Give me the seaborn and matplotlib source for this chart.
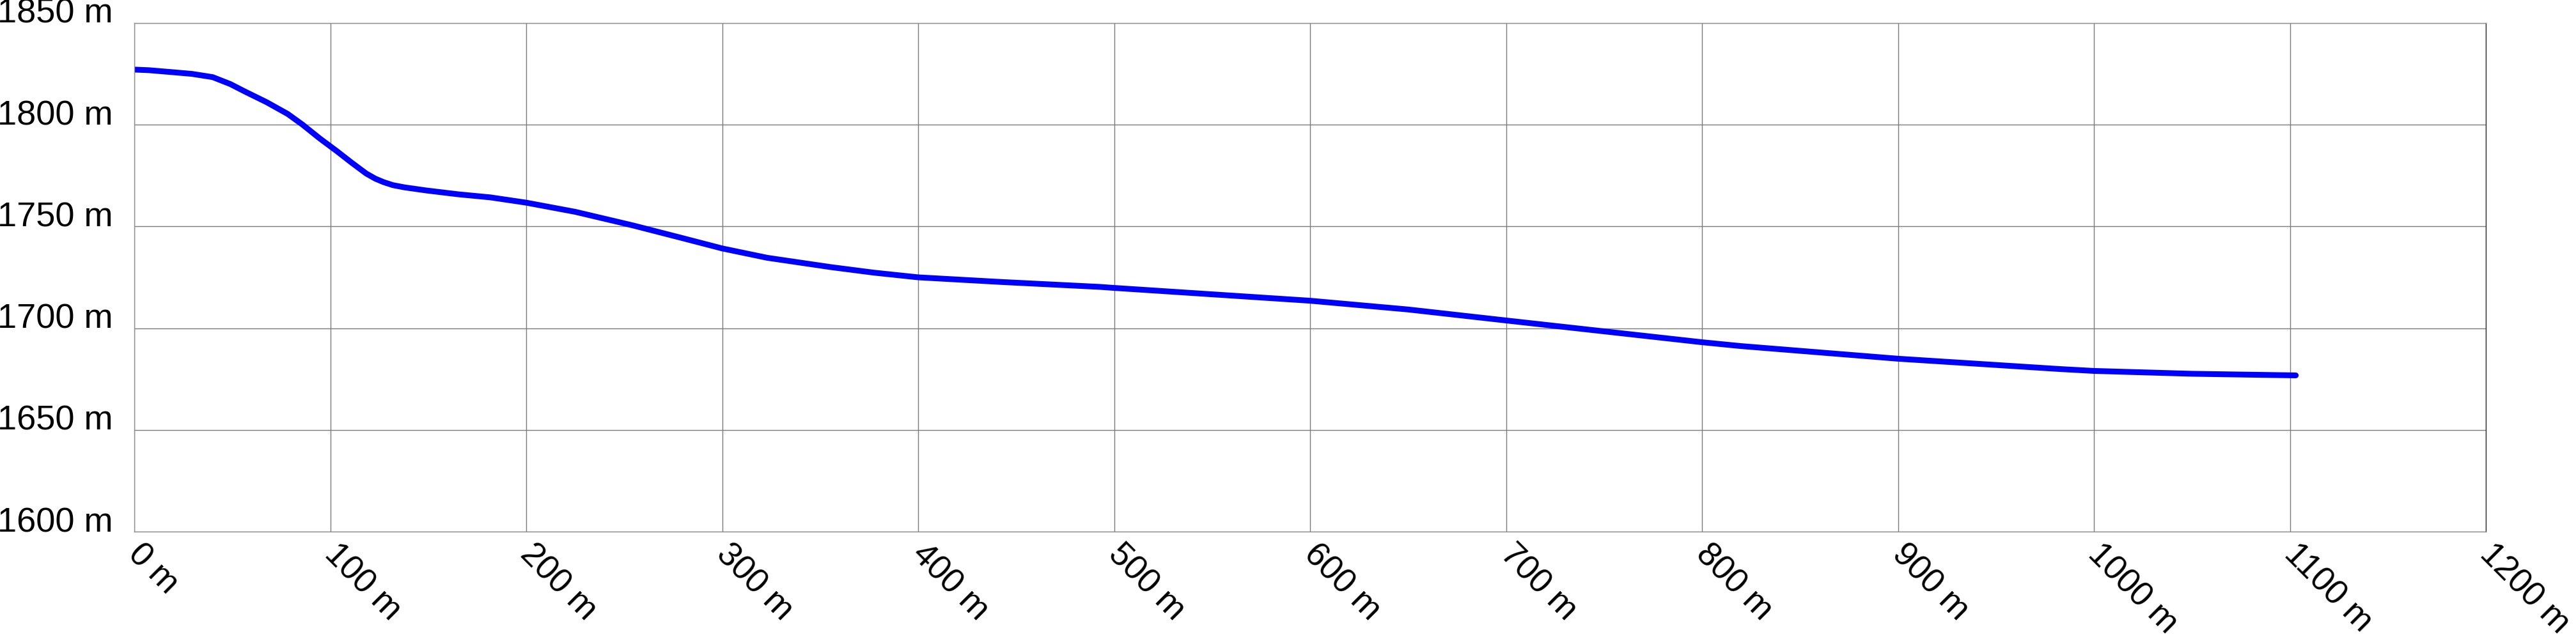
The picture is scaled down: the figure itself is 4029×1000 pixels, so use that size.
import matplotlib
matplotlib.use("Agg")
import matplotlib.pyplot as plt
import matplotlib.transforms as mtransforms
import pandas as pd
import seaborn as sns

# elevation profile (distance in m, elevation in m)
distance_m = [0, 7.5, 18.6, 29.4, 40, 49, 56.5, 67.5, 78.3, 85.8, 94.6,
              103.4, 111, 118.4, 123, 127.2, 132, 138, 149, 165.4, 181.7,
              200, 225, 254.5, 279.6, 300, 323, 355.6, 377.4, 400, 442.7,
              492.7, 500, 600, 650, 700, 800, 820, 900, 983, 1000, 1050,
              1103]
elevation_m = [1827.1, 1826.8, 1825.9, 1825.0, 1823.4, 1820.0, 1816.3,
               1811.1, 1805.3, 1800.1, 1793.3, 1787.0, 1781.3, 1776.0,
               1773.5, 1771.8, 1770.3, 1769.2, 1767.7, 1765.8, 1764.3,
               1761.7, 1757.2, 1750.5, 1744.3, 1739.2, 1734.6, 1730.0,
               1727.3, 1725.0, 1722.7, 1720.3, 1719.8, 1713.5, 1709.2,
               1703.8, 1693.1, 1691.2, 1685.0, 1679.9, 1679.0, 1677.6,
               1676.8]

x_ticks = list(range(0, 1201, 100))
y_ticks = list(range(1600, 1851, 50))

df = pd.DataFrame({"distance": distance_m, "elevation": elevation_m})

sns.set_style("white")
plt.rcParams["font.family"] = ["Liberation Sans", "DejaVu Sans"]

fig = plt.figure(figsize=(40.3, 10), dpi=100)
ax = fig.add_axes([210 / 4030, 1 - 832 / 1000, 3678 / 4030, 796 / 1000])

sns.lineplot(data=df, x="distance", y="elevation", ax=ax,
             color="#0000ff", linewidth=6.5, solid_capstyle="round",
             solid_joinstyle="round")

ax.set_xlim(0, 1200)
ax.set_ylim(1600, 1850)
ax.set_xticks(x_ticks)
ax.set_yticks(y_ticks)
ax.set_xticklabels([f"{v} m" for v in x_ticks])
ax.set_yticklabels([f"{v} m" for v in y_ticks])
ax.set_xlabel("")
ax.set_ylabel("")

ax.grid(True, color="#7a7a7a", linewidth=1.0)
ax.set_axisbelow(True)
for side in ["left", "right", "top", "bottom"]:
    ax.spines[side].set_visible(True)
    ax.spines[side].set_color("#909090")
    ax.spines[side].set_linewidth(1.0)
ax.spines["right"].set_color("#303030")

ax.tick_params(axis="both", length=0, labelcolor="black")
ax.tick_params(axis="y", pad=24, labelsize=39)
ax.tick_params(axis="x", pad=7, labelsize=38)

for lab in ax.get_yticklabels():
    lab.set_verticalalignment("baseline")

shift = mtransforms.ScaledTranslation(16 / 100, 0, fig.dpi_scale_trans)
for lab in ax.get_xticklabels():
    lab.set_rotation(-45)
    lab.set_rotation_mode("anchor")
    lab.set_horizontalalignment("left")
    lab.set_verticalalignment("top")
    lab.set_transform(lab.get_transform() + shift)

fig.savefig("out.png", dpi=100, facecolor="white")
